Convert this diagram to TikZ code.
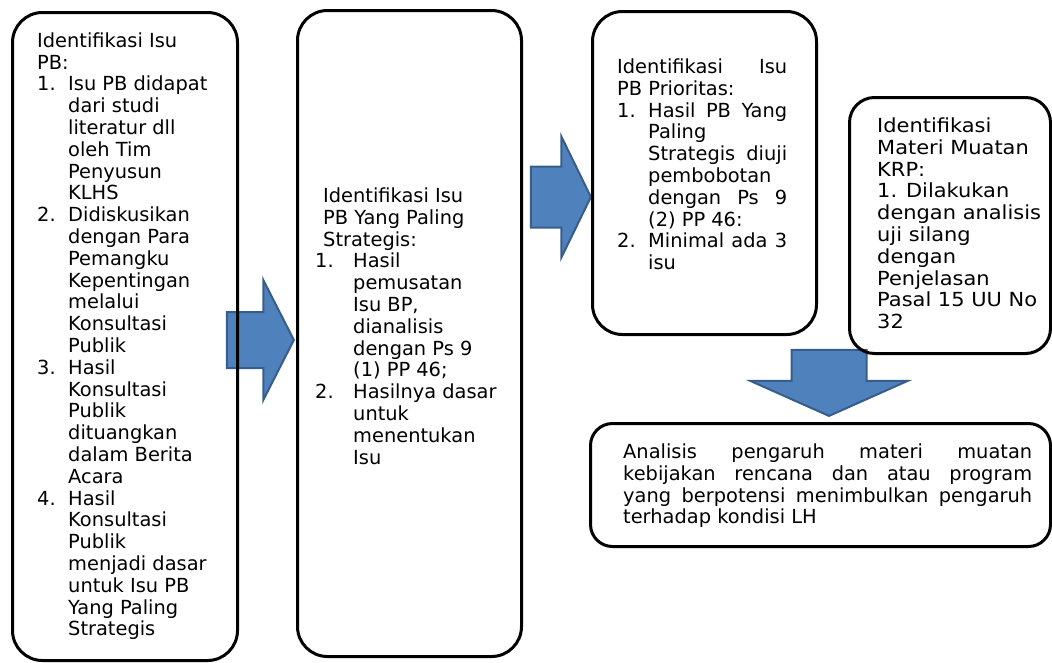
\documentclass[tikz,border=0pt]{standalone}
\usepackage{fontspec}
\setmainfont{DejaVu Sans}
\newfontfamily\widefont[FakeStretch=1.08]{DejaVu Sans}
\usetikzlibrary{shapes.arrows}

\definecolor{arrowfill}{RGB}{79,129,189}
\definecolor{arrowline}{RGB}{56,93,138}

\newcommand{\numbox}[2][31pt]{\makebox[#1][l]{#2}}
\newcommand{\indbox}[1][31pt]{\hspace*{#1}}

\begin{document}
\begin{tikzpicture}[
  x=1pt, y=-1pt,
  box/.style={
    draw,
    line width=3pt,
    rounded corners=30pt,
    anchor=north west,
    inner sep=0pt
  },
  txt/.style={
    align=left,
    anchor=north west,
    inner sep=0pt,
    font=\fontsize{19.4}{21.8}\selectfont
  },
  flow/.style={
    single arrow,
    draw=arrowline,
    fill=arrowfill,
    line width=2pt,
    inner xsep=0pt,
    single arrow head indent=0pt,
    anchor=tip
  }
]
\useasboundingbox (0,0) rectangle (1052,662);

% Block arrows
\node[flow, inner ysep=27pt, minimum height=67pt, minimum width=118pt,
  single arrow head extend=32pt, single arrow tip angle=126] (a1) at (295,340) {};
\node[flow, inner ysep=29.5pt, minimum height=60pt, minimum width=119pt,
  single arrow head extend=30pt, single arrow tip angle=128] (a2) at (592,197) {};
\node[flow, rotate=-90, inner ysep=36.5pt, minimum height=66pt, minimum width=155pt,
  single arrow head extend=41pt, single arrow tip angle=132] (a3) at (829,417) {};

% Boxes
\node[box, minimum width=225pt, minimum height=648pt] (isu) at (11,11) {};
\node[box, minimum width=224pt, minimum height=646pt] (strategis) at (296,9) {};
\node[box, minimum width=224pt, minimum height=323pt] (prioritas) at (591,10) {};
\node[box, rounded corners=25pt, minimum width=201pt, minimum height=256pt] (materi) at (848,96) {};
\node[box, rounded corners=22pt, minimum width=460pt, minimum height=123pt] (analisis) at (589,422) {};

% Texts
\node[txt] (isuText) at (37,32.3) {%
  Identifikasi Isu\\
  PB:\\
  \numbox{1.}Isu PB didapat\\
  \indbox dari studi\\
  \indbox literatur dll\\
  \indbox oleh Tim\\
  \indbox Penyusun\\
  \indbox KLHS\\
  \numbox{2.}Didiskusikan\\
  \indbox dengan Para\\
  \indbox Pemangku\\
  \indbox Kepentingan\\
  \indbox melalui\\
  \indbox Konsultasi\\
  \indbox Publik\\
  \numbox{3.}Hasil\\
  \indbox Konsultasi\\
  \indbox Publik\\
  \indbox dituangkan\\
  \indbox dalam Berita\\
  \indbox Acara\\
  \numbox{4.}Hasil\\
  \indbox Konsultasi\\
  \indbox Publik\\
  \indbox menjadi dasar\\
  \indbox untuk Isu PB\\
  \indbox Yang Paling\\
  \indbox Strategis
};

\node[txt] (strategisText) at (315,187.6) {%
  \hspace*{8pt}Identifikasi Isu\\
  \hspace*{8pt}PB Yang Paling\\
  \hspace*{8pt}Strategis:\\
  \numbox[38pt]{1.}Hasil\\
  \indbox[38pt]pemusatan\\
  \indbox[38pt]Isu BP,\\
  \indbox[38pt]dianalisis\\
  \indbox[38pt]dengan Ps 9\\
  \indbox[38pt](1) PP 46;\\
  \numbox[38pt]{2.}Hasilnya dasar\\
  \indbox[38pt]untuk\\
  \indbox[38pt]menentukan\\
  \indbox[38pt]Isu
};

\node[txt] (prioritasText) at (617,58.6) {%
  \makebox[170pt][s]{Identifikasi Isu}\\
  PB Prioritas:\\
  \numbox{1.}\makebox[139pt][s]{Hasil PB Yang}\\
  \indbox Paling\\
  \indbox\makebox[139pt][s]{Strategis diuji}\\
  \indbox pembobotan\\
  \indbox\makebox[139pt][s]{dengan Ps 9}\\
  \indbox (2) PP 46:\\
  \numbox{2.}\makebox[139pt][s]{Minimal ada 3}\\
  \indbox isu
};

\node[txt, font=\widefont\fontsize{19.4}{21.8}\selectfont] (materiText) at (877,117.6) {%
  Identifikasi\\
  Materi Muatan\\
  KRP:\\
  1. Dilakukan\\
  dengan analisis\\
  uji silang\\
  dengan\\
  Penjelasan\\
  Pasal 15 UU No\\
  32
};

\node[txt] (analisisText) at (623,443.6) {%
  \makebox[409pt][s]{Analisis pengaruh materi muatan}\\
  \makebox[409pt][s]{kebijakan rencana dan atau program}\\
  \makebox[409pt][s]{yang berpotensi menimbulkan pengaruh}\\
  terhadap kondisi LH
};

\end{tikzpicture}
\end{document}
